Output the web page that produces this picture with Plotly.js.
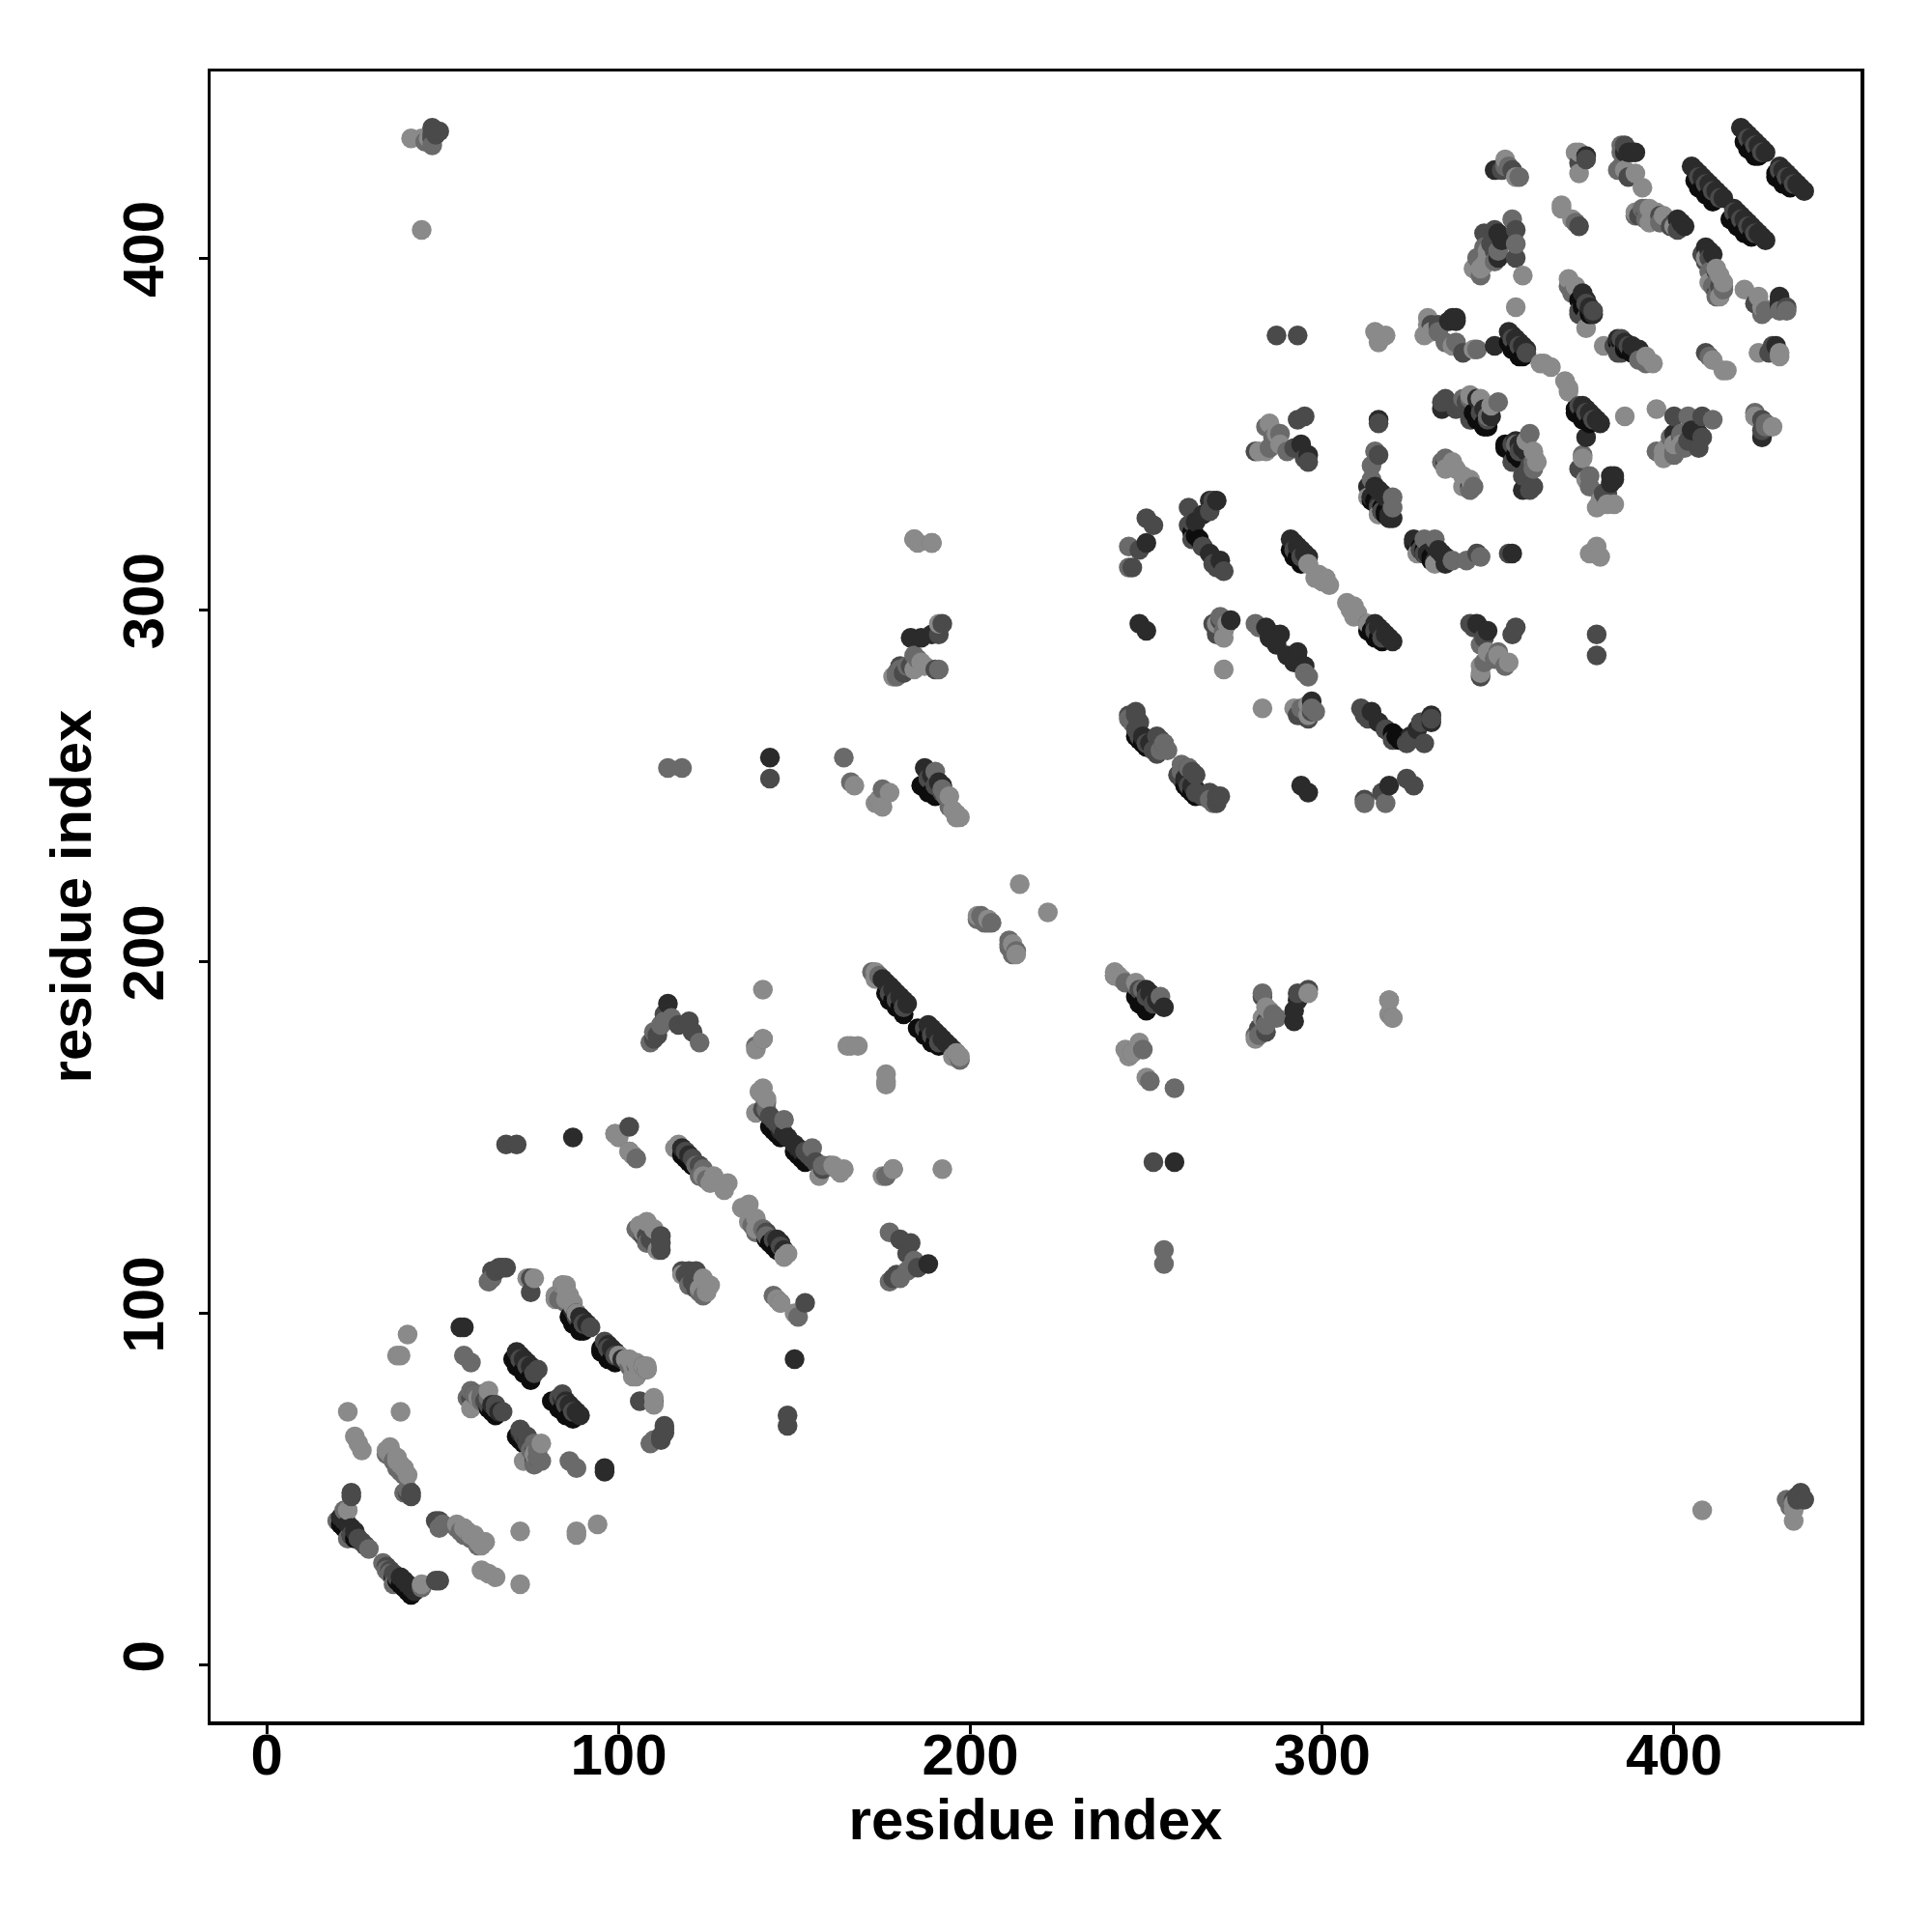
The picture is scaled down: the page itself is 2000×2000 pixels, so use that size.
<!DOCTYPE html>
<html><head><meta charset="utf-8">
<script src="https://cdn.plot.ly/plotly-3.0.1.min.js"></script>
<style>html,body{margin:0;padding:0;background:#fff}</style></head>
<body><div id="chart" style="width:2000px;height:2000px"></div>
<script>
const tickValues = [0,100,200,300,400];
const axisLabel = "residue index";
const black = [
[21,40],[22,39],[23,38],[24,37],[25,36],[36,25],[37,24],[38,23],[39,22],[40,21],[41,20],
[63,73],[64,72],[65,71],[71,65],[72,64],[73,63],
[70,87],[71,86],[72,85],[73,84],[74,83],[75,82],[82,75],[83,74],[84,73],[85,72],[86,71],[87,70],
[71,85],[73,83],[75,81],[81,75],[83,73],[85,71],
[86,99],[87,98],[88,97],[89,96],[90,95],[95,90],[96,89],[97,88],[98,87],[99,86],
[87,97],[89,95],[95,89],[97,87],
[118,145],[119,144],[120,143],[121,142],[142,121],[143,120],[144,119],[145,118],
[143,153],[144,152],[145,151],[146,150],[150,146],[151,145],[152,144],[153,143],
[176,191],[177,190],[178,189],[179,188],[180,187],[187,180],[188,179],[189,178],[190,177],[191,176],
[177,189],[179,187],[181,185],[185,181],[187,179],[189,177],
[186,250],[187,250],[188,249],[189,248],[190,247],[247,190],[248,189],[249,188],[250,187],
[188,248],[248,188],[250,186],
[247,264],[248,263],[249,262],[250,261],[261,250],[262,249],[263,248],[264,247],
[263,322],[264,321],[265,320],[320,265],[321,264],[322,263],
[291,317],[292,316],[293,315],[294,314],[314,294],[315,293],[316,292],[317,291],
[292,315],[294,313],[313,294],[315,292],
[314,332],[315,331],[316,330],[317,329],[318,328],[328,318],[329,317],[330,316],[331,315],[332,314],
[314,331],[316,329],[318,327],[327,318],[329,316],[331,314],
[343,356],[344,355],[345,354],[346,353],[347,352],[352,347],[353,346],[354,345],[355,344],[356,343],
[344,354],[346,352],[352,346],[354,344],
[353,376],[354,375],[355,374],[356,373],[357,372],[372,357],[373,356],[374,355],[375,354],[376,353],
[354,374],[356,372],[372,356],[374,354],
[373,388],[374,387],[375,386],[376,385],[385,376],[386,375],[387,374],[388,373],
[374,386],[376,384],[384,376],[386,374],
[406,422],[407,421],[408,420],[409,419],[410,418],[411,417],[417,411],[418,410],[419,409],[420,408],[421,407],[422,406],
[407,420],[409,418],[411,416],[416,411],[418,409],[420,407],
[420,433],[421,432],[422,431],[423,430],[424,429],[429,424],[430,423],[431,422],[432,421],[433,420],
[421,431],[423,429],[429,423],[431,421]
];
const deep = [
[21,42],[22,41],[23,40],[24,39],[25,38],[38,25],[39,24],[40,23],[41,22],[42,21],
[55,96],[56,96],[96,55],[96,56],
[64,74],[66,72],[72,66],[74,64],
[71,89],[72,88],[73,87],[74,86],[75,85],[76,84],[84,76],[85,75],[86,74],[87,73],[88,72],[89,71],
[87,101],[88,100],[89,99],[90,98],[91,97],[97,91],[98,90],[99,89],[100,88],[101,87],
[87,150],[150,87],[114,188],[188,114],[118,147],[119,146],[120,145],[146,120],[145,121],[147,118],
[143,258],[258,143],[146,152],[147,151],[148,150],[150,148],[151,147],[152,146],
[175,195],[176,194],[177,193],[178,192],[179,191],[180,190],[181,189],[182,188],[188,182],[189,181],[190,180],[191,179],[192,178],[193,177],[194,176],[195,175],
[187,255],[188,254],[189,253],[190,252],[191,251],[192,250],[250,192],[251,191],[252,190],[253,189],[254,188],[255,187],
[183,292],[186,292],[292,183],[292,186],[293,189],[189,293],
[249,264],[250,263],[251,262],[252,261],[261,252],[262,251],[263,250],[264,249],
[248,296],[250,294],[296,248],[294,250],[250,319],[319,250],[264,325],[266,327],[268,331],[270,331],[325,264],[327,266],[331,268],[331,270],
[266,318],[268,316],[271,314],[314,271],[316,268],[318,266],[274,297],[297,274],
[284,295],[286,293],[288,293],[293,286],[293,288],[295,284],[290,287],[292,285],[285,292],[287,290],
[291,320],[292,319],[293,318],[294,317],[295,316],[296,315],[315,296],[316,295],[317,294],[318,293],[319,292],[320,291],
[294,347],[347,294],[296,344],[344,296],[316,354],[354,316],[349,375],[375,349],
[315,335],[316,334],[317,333],[318,332],[319,327],[320,326],[326,320],[327,319],[332,318],[333,317],[334,316],[335,315],
[326,319],[328,317],[330,316],[332,314],[335,313],[319,326],[317,328],[316,330],[314,332],[313,335],
[336,382],[337,383],[338,382],[382,336],[383,337],[382,338],
[334,357],[335,342],[342,335],[357,334],[344,360],[345,358],[346,357],[347,356],[348,355],[355,348],[356,347],[357,346],[358,345],[360,344],
[353,379],[354,378],[355,377],[356,376],[357,375],[358,374],[374,358],[375,357],[376,356],[377,355],[378,354],[379,353],
[351,405],[405,351],[349,425],[425,349],[350,400],[400,350],[350,407],[407,350],[375,429],[429,375],
[374,390],[375,388],[376,386],[377,384],[384,377],[386,376],[388,375],[390,374],
[386,430],[387,430],[388,430],[389,430],[430,386],[430,387],[430,388],[430,389],
[403,409],[402,410],[401,411],[409,403],[410,402],[411,401],[383,338],[338,383],
[405,426],[406,425],[407,424],[408,423],[409,422],[410,421],[411,420],[412,419],[413,418],[414,417],[417,414],[418,413],[419,412],[420,411],[421,410],[422,409],[423,408],[424,407],[425,406],[426,405],
[419,437],[420,436],[421,435],[422,434],[423,433],[424,432],[425,431],[426,430],[430,426],[431,425],[432,424],[433,423],[434,422],[435,421],[436,420],[437,419]
];
const dark = [
[24,37],[26,36],[27,35],[28,34],[34,28],[35,27],[36,26],[37,25],
[24,48],[48,24],[49,24],[24,49],
[41,48],[41,49],[48,41],[49,41],[49,40],[40,49],
[58,76],[60,76],[62,75],[63,74],[65,73],[73,65],[74,63],[75,62],[76,60],[76,58],
[72,67],[74,65],[75,63],[76,61],[77,59],[67,72],[65,74],[63,75],[61,76],[59,77],
[77,84],[84,77],[90,97],[92,96],[97,90],[96,92],[85,107],[84,108],[107,85],[108,84],
[72,87],[74,85],[76,83],[83,76],[85,74],[87,72],[88,99],[90,97],[97,90],[99,88],
[64,112],[65,112],[66,113],[67,113],[68,113],[112,64],[112,65],[113,66],[113,67],[113,68],
[75,106],[106,75],[75,110],[110,75],
[68,148],[71,148],[148,68],[148,71],[103,153],[153,103],[107,122],[108,122],[109,121],[110,120],[111,119],[112,118],[118,112],[119,111],[120,110],[121,109],[122,108],[122,107],
[122,112],[112,122],[120,112],[112,120],[119,146],[121,144],[123,142],[142,123],[144,121],[146,119],
[141,158],[142,157],[143,156],[144,155],[145,154],[146,153],[153,146],[154,145],[155,144],[156,143],[157,142],[158,141],
[143,252],[252,143],[110,178],[178,110],[182,117],[117,182],[179,111],[111,179],[185,113],[113,185],[183,120],[120,183],
[121,180],[180,121],[183,284],[284,183],[181,282],[282,181],[190,283],[283,190],[293,191],[191,293],
[284,180],[180,284],[296,192],[192,296],
[177,191],[179,189],[181,187],[187,181],[189,179],[191,177],
[188,252],[190,250],[192,248],[248,192],[250,190],[252,188],
[253,264],[254,263],[255,262],[263,254],[264,253],[262,255],
[259,253],[260,252],[262,250],[264,248],[266,247],[268,246],[270,245],[271,247],[245,270],[247,271],[246,268],[247,266],[248,264],[250,262],[252,260],[253,259],
[247,270],[248,268],[268,248],[270,247],
[250,326],[326,250],[252,324],[324,252],[248,317],[317,248],[246,312],[312,246],
[262,324],[263,325],[324,262],[325,263],[272,311],[311,272],[266,318],[318,266],
[269,296],[270,294],[271,297],[296,269],[294,270],[297,271],[270,293],[293,270],
[295,355],[355,295],[293,354],[354,293],[292,346],[346,292],[295,343],[343,295],[296,342],[342,296],
[281,345],[345,281],[292,317],[294,315],[296,313],[313,296],[315,294],[317,292],
[293,378],[378,293],[287,378],[378,287],[316,344],[344,316],[316,353],[353,316],
[312,270],[270,312],[313,269],[269,313],[320,263],[263,320],[329,262],[262,329],[328,268],[268,328],[331,269],[269,331],
[328,317],[317,328],[329,316],[316,329],
[338,357],[357,338],[333,380],[380,333],[331,381],[381,331],[340,373],[373,340],[341,359],[359,341],
[345,356],[347,354],[354,347],[356,345],[354,377],[356,375],[358,373],[373,358],[375,356],[377,354],
[375,387],[377,385],[385,377],[387,375],
[346,407],[407,346],[349,402],[402,349],[355,408],[408,355],[355,400],[400,355],[354,342],[342,354],
[358,339],[339,358],[360,335],[335,360],[359,334],[334,359],[373,427],[427,373],[373,409],[409,373],
[383,375],[375,383],[385,373],[373,385],[381,333],[333,381],
[390,412],[412,390],[392,413],[413,392],[396,412],[412,396],[400,410],[410,400],
[408,401],[401,408],[409,399],[399,409],
[407,423],[409,421],[411,419],[413,417],[417,413],[419,411],[421,409],[423,407],
[421,434],[423,432],[425,430],[430,425],[432,423],[434,421],
[425,351],[351,425],[425,354],[354,425],[428,375],[375,428],[423,387],[387,423],[432,386],[386,432],
[434,47],[435,47],[47,434],[47,435],[48,436],[436,48],[49,436],[436,49],[437,47],[47,437],[435,48],[48,435],
[404,348],[348,404],[408,349],[349,408],[384,373],[373,384]
];
const mid = [
[20,41],[22,44],[44,22],[23,36],[36,23],[29,33],[33,29],[34,27],[35,26],
[34,60],[60,34],[36,58],[58,36],[37,56],[56,37],[38,55],[55,38],[39,54],[54,39],[49,39],[39,49],[50,40],[40,50],
[56,88],[88,56],[58,86],[86,58],[57,76],[76,57],[59,77],[77,59],[61,77],[77,61],
[78,58],[58,78],[75,61],[61,75],[76,63],[63,76],
[63,109],[109,63],[64,110],[110,64],[85,105],[105,85],[83,104],[104,83],
[103,85],[85,103],
[103,146],[146,103],[105,144],[144,105],[99,151],[151,99],[105,124],[124,105],[106,123],[123,106],[108,120],[120,108],
[123,139],[139,123],[125,138],[138,125],[124,141],[141,124],[122,142],[142,122],
[109,177],[177,109],[110,180],[180,110],[112,182],[182,112],[113,183],[183,113],[115,184],[184,115],[123,177],[177,123],
[139,176],[176,139],[141,178],[178,141],[147,155],[155,147],[158,142],[142,158],[160,142],[142,160],
[190,254],[254,190],[192,249],[249,192],[193,247],[247,193],[249,175],[175,249],[251,166],[166,251],[258,164],[164,258],
[118,255],[255,118],[114,255],[255,114],
[174,246],[246,174],[281,179],[179,281],[283,191],[191,283],[287,184],[184,287],
[179,282],[282,179],[180,283],[283,180],[182,284],[284,182],[185,286],[286,185],
[319,189],[189,319],[320,184],[184,320],
[245,269],[269,245],[246,268],[268,246],[255,262],[262,255],[256,260],[260,256],
[245,312],[312,245],[245,318],[318,245],[260,254],[254,260],
[271,298],[298,271],[272,297],[297,272],[272,294],[294,272],[281,296],[296,281],[282,295],[295,282],
[284,352],[352,284],[286,349],[349,286],[288,350],[350,288],[285,346],[346,285],[290,345],[345,290],
[314,341],[341,314],[315,345],[345,315],[314,337],[337,314],
[320,332],[332,320],[320,329],[329,320],[334,342],[342,334],[343,335],[335,343],
[342,360],[360,342],[347,355],[355,347],[360,340],[340,360],[359,350],[350,359],[372,410],[410,372],
[344,400],[400,344],[346,403],[403,346],[349,399],[399,349],[353,426],[426,353],[356,423],[423,356],
[374,344],[344,374],[376,335],[335,376],[376,338],[338,376],[379,333],[333,379],
[370,392],[392,370],[371,390],[390,371],[385,426],[426,385],[384,425],[425,384],
[392,414],[414,392],[389,412],[412,389],[396,410],[410,396],
[400,345],[345,400],[402,350],[350,402],[395,345],[345,395],[411,354],[354,411],[404,355],[355,404],
[411,392],[392,411],[412,393],[393,412],[414,391],[391,414],
[426,352],[352,426],[430,385],[385,430],[432,385],[385,432],
[433,45],[45,433],[432,47],[47,432],
[202,212],[212,202],[204,211],[211,204],[206,211],[211,206],[205,211],[211,205],[212,204],[204,212],[213,203],[203,213],
[196,241],[241,196],[244,194],[194,244],[172,197],[197,172],[174,196],[196,174]
];
const pale = [
[23,72],[72,23],[25,65],[65,25],[26,63],[63,26],[27,61],[61,27],[23,44],[44,23],
[34,61],[61,34],[35,62],[62,35],[37,59],[59,37],[38,57],[57,38],[40,54],[54,40],
[38,72],[72,38],[38,88],[88,38],[40,94],[94,40],[56,39],[39,56],[58,37],[37,58],[60,35],[35,60],[62,35],
[73,58],[58,73],[78,63],[63,78],[76,60],[60,76],[88,37],[37,88],
[74,110],[110,74],[76,110],[110,76],[82,105],[105,82],[85,108],[108,85],[82,104],[104,82],[87,103],[103,87],
[100,88],[102,87],[104,85],[105,86],[107,85],[108,84],[88,100],[87,102],[85,104],[86,105],[85,107],[84,108],
[99,151],[100,150],[150,100],[103,146],[146,103],[145,104],[104,145],
[111,118],[118,111],[110,124],[124,110],[107,123],[123,107],[125,106],[106,125],[126,108],[108,126],
[124,139],[139,124],[126,137],[137,126],[131,137],[137,131],[127,139],[139,127],[135,130],[130,135],[148,117],[117,148],[147,116],[116,147],
[140,163],[163,140],[141,162],[162,141],[139,157],[157,139],[141,192],[192,141],[161,142],[142,161],[164,141],[141,164],
[166,176],[176,166],[168,176],[176,168],[165,176],[176,165],[175,139],[139,175],[178,141],[141,178],
[185,319],[319,185],[189,319],[319,189],[184,320],[320,184],[178,281],[281,178],
[195,173],[173,195],[197,173],[173,197],[196,174],[195,243],[243,195],[196,241],[241,196],[194,247],[247,194],
[167,250],[250,167],[175,244],[244,175],[177,248],[248,177],[246,174],[174,246],[245,173],[173,245],
[202,213],[213,202],[214,222],[222,214],[205,212],[212,205],
[242,196],[196,242],[241,197],[197,241],
[187,284],[284,187],[184,283],[283,184],[186,285],[285,186],[191,296],[296,191],
[272,283],[283,272],[292,272],[272,292],[296,270],[270,296],[273,296],[296,273],
[298,309],[309,298],[299,310],[310,299],[300,308],[308,300],[296,313],[313,296],[302,307],[307,302],[301,309],[309,301],
[282,345],[345,282],[284,345],[345,284],[285,353],[353,285],[287,350],[350,287],[288,347],[347,288],
[316,378],[378,316],[318,378],[378,318],[313,332],[332,313],[316,327],[327,316],
[329,378],[378,329],[331,379],[379,331],[343,374],[374,343],[337,375],[375,337],
[335,340],[340,335],[342,337],[337,342],[338,340],[340,338],
[348,358],[358,348],[342,361],[361,342],[345,360],[360,345],[363,370],[370,363],[365,369],[369,365],[362,370],[370,362],
[343,397],[397,343],[345,397],[397,345],[347,400],[400,347],[355,386],[386,355],[357,395],[395,357],
[375,380],[380,375],[372,392],[392,372],[370,394],[394,370],[368,414],[414,368],[371,411],[411,371],
[372,430],[430,372],[373,424],[424,373],[381,330],[330,381],[383,330],[330,383],[379,315],[315,379],[376,316],[316,376],
[391,420],[420,391],[386,425],[425,386],
[393,414],[414,393],[395,413],[413,395],[397,412],[412,397],[400,409],[409,400],
[410,393],[393,410],[413,389],[389,413],[415,368],[368,415],
[423,355],[355,423],[428,352],[352,428],[424,389],[389,424],[430,373],[373,430],
[41,434],[434,41],[44,434],[434,44],[46,434],[434,46],[44,408],[408,44],
[398,346],[346,398],[402,347],[347,402]
];
const levels = [[black,"#0d0d0d",0],[deep,"#2b2b2b",1],[dark,"#4a4a4a",2],[mid,"#6a6a6a",3],[pale,"#8a8a8a",4]];
const pts = [];
levels.forEach(([list,color,rank])=>list.forEach(([x,y])=>pts.push({x,y,color,rank})));
pts.sort((a,b)=>a.x-b.x||a.rank-b.rank);
const font = {family:'"Liberation Sans",Arial,sans-serif',size:60,color:"#000",weight:700};
Plotly.newPlot("chart",[{type:"scatter",mode:"markers",x:pts.map(p=>p.x),y:pts.map(p=>p.y),
  marker:{size:20.5,color:pts.map(p=>p.color),line:{width:0}},hoverinfo:"skip"}],{
  width:2000,height:2000,showlegend:false,paper_bgcolor:"#fff",plot_bgcolor:"#fff",
  margin:{l:217.5,r:73.75,t:73.75,b:217.75},font,
  xaxis:{range:[-16,453],tickvals:tickValues,ticktext:tickValues.map(String),showgrid:false,zeroline:false,showline:true,mirror:true,linecolor:"#000",linewidth:3.5,ticks:"outside",ticklen:9,tickwidth:3,tickcolor:"#000",tickfont:font,ticklabelstandoff:-30,automargin:false,title:{text:axisLabel,font,standoff:14}},
  yaxis:{range:[-16,453],tickvals:tickValues,ticktext:tickValues.map(String),tickangle:-90,showgrid:false,zeroline:false,showline:true,mirror:true,linecolor:"#000",linewidth:3.5,ticks:"outside",ticklen:9,tickwidth:3,tickcolor:"#000",tickfont:font,ticklabelstandoff:13,automargin:false,title:{text:axisLabel,font,standoff:1}}
},{displayModeBar:false,staticPlot:true});
</script></body></html>
